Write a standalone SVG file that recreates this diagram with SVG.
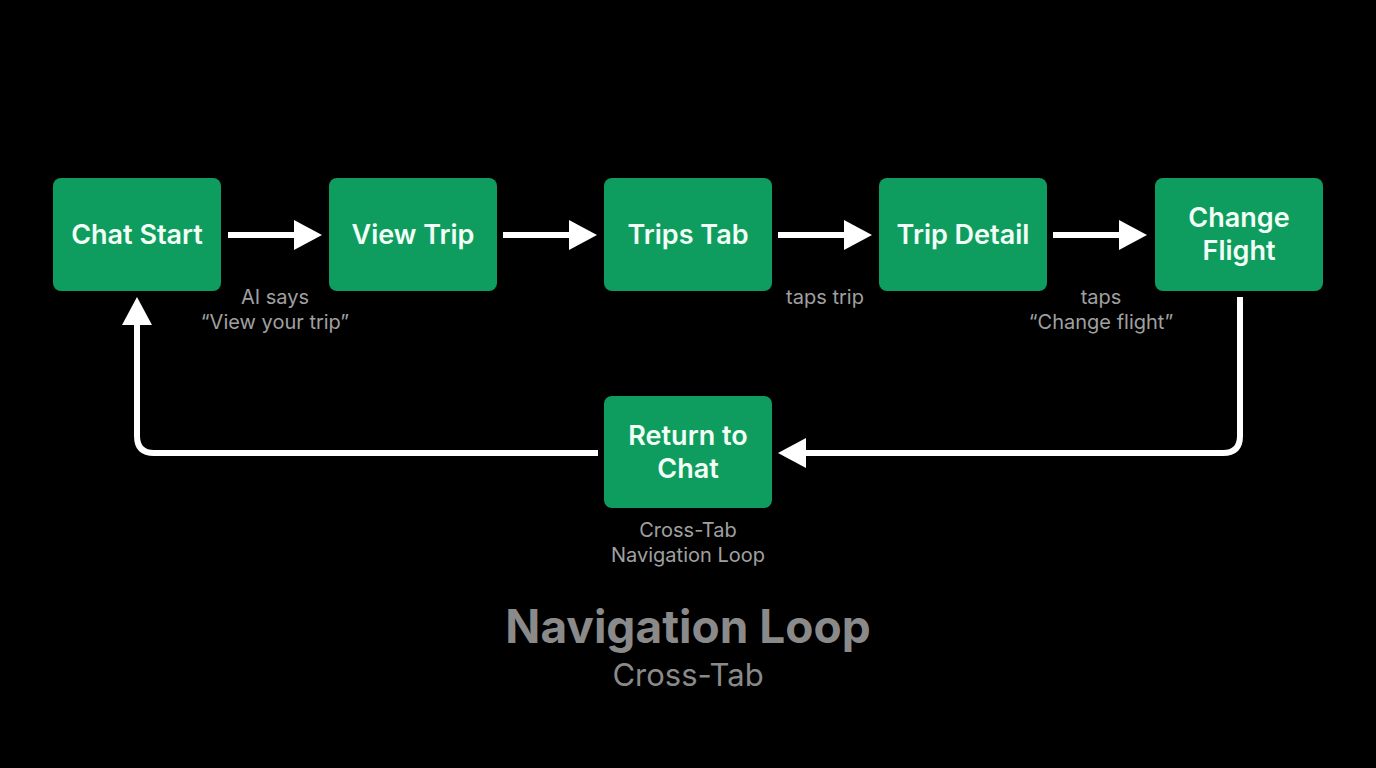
<svg xmlns="http://www.w3.org/2000/svg" width="1376" height="768" viewBox="0 0 1376 768">
<defs>
<style>
.node rect{fill:#0f9d5f;}
.node text{fill:#f2fff6;font-family:Inter,"Liberation Sans",sans-serif;font-weight:600;font-size:27px;text-anchor:middle;}
.lbl{fill:#a0a0a0;font-family:Inter,"Liberation Sans",sans-serif;font-size:20px;text-anchor:middle;}
.edge{stroke:#fff;stroke-width:6;fill:none;}
.head{fill:#fff;}
</style>
</defs>
<rect width="1376" height="768" fill="#000"/>
<g id="connectors">
<line class="edge" x1="228" y1="235" x2="298" y2="235"/>
<polygon class="head" points="294,220 322,235 294,250"/>
<line class="edge" x1="503" y1="235" x2="573" y2="235"/>
<polygon class="head" points="569,220 597,235 569,250"/>
<line class="edge" x1="778" y1="235" x2="848" y2="235"/>
<polygon class="head" points="844,220 872,235 844,250"/>
<line class="edge" x1="1053" y1="235" x2="1123" y2="235"/>
<polygon class="head" points="1119,220 1147,235 1119,250"/>
<path class="edge" d="M1240,297 V436 Q1240,453 1223,453 H802"/>
<polygon class="head" points="806,438 778,453 806,468"/>
<path class="edge" d="M598,453 H154 Q137,453 137,436 V320"/>
<polygon class="head" points="122,325 137,297 152,325"/>
</g>
<g id="chat-start" class="node"><rect x="53" y="178" width="168" height="113" rx="8"/><text x="137" y="244">Chat Start</text></g>
<g id="view-trip" class="node"><rect x="329" y="178" width="168" height="113" rx="8"/><text x="413" y="244">View Trip</text></g>
<g id="trips-tab" class="node"><rect x="604" y="178" width="168" height="113" rx="8"/><text x="688" y="244">Trips Tab</text></g>
<g id="trip-detail" class="node"><rect x="879" y="178" width="168" height="113" rx="8"/><text x="963" y="244">Trip Detail</text></g>
<g id="change-flight" class="node"><rect x="1155" y="178" width="168" height="113" rx="8"/><text x="1239" y="227">Change</text><text x="1239" y="260">Flight</text></g>
<g id="return-to-chat" class="node"><rect x="604" y="396" width="168" height="112" rx="8"/><text x="688" y="445">Return to</text><text x="688" y="478">Chat</text></g>
<g id="labels">
<text class="lbl" x="275" y="304">AI says</text>
<text class="lbl" x="275" y="329">“View your trip”</text>
<text class="lbl" x="825" y="304">taps trip</text>
<text class="lbl" x="1101" y="304">taps</text>
<text class="lbl" x="1101" y="329">“Change flight”</text>
<text class="lbl" x="688" y="537">Cross-Tab</text>
<text class="lbl" x="688" y="562">Navigation Loop</text>
</g>
<g id="title">
<text x="688" y="643" fill="#8a8a8a" font-family="Inter,'Liberation Sans',sans-serif" font-weight="700" font-size="46" text-anchor="middle">Navigation Loop</text>
<text x="688" y="686" fill="#8a8a8a" font-family="Inter,'Liberation Sans',sans-serif" font-size="31" text-anchor="middle">Cross-Tab</text>
</g>
</svg>
